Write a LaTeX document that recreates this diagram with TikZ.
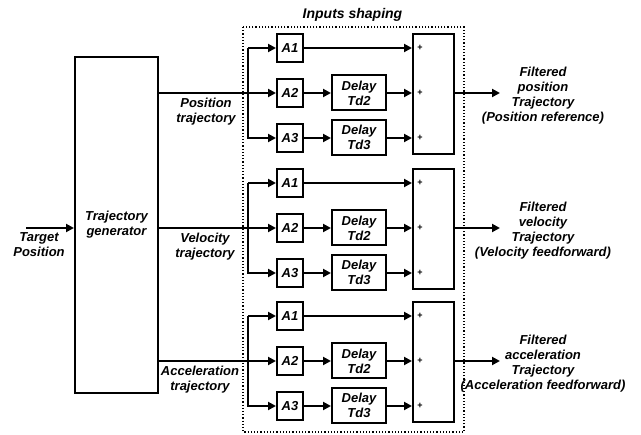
\documentclass[tikz,border=0pt]{standalone}
\usepackage{fontspec}
\setmainfont{Liberation Sans}
\usepackage{tikz}
\usetikzlibrary{arrows.meta,calc,positioning}
\tikzset{
    myblock/.style={draw=black,line width=2pt,inner sep=0pt,align=center},
    gainbox/.style={myblock,minimum width=26pt,minimum height=28pt},
    delaybox/.style={myblock,minimum width=54pt,minimum height=35pt},
    sumbox/.style={myblock,minimum width=41pt,minimum height=120pt},
    myedge/.style={line width=2pt,draw=black},
    myarrow/.style={myedge,-{Triangle[length=8pt,width=8pt]}},
    mylabel/.style={align=center,inner sep=0pt},
    plussign/.style={font=\fontsize{9}{9}\selectfont\bfseries,inner sep=0pt},
    every node/.style={font=\fontsize{13}{15}\selectfont\bfseries\itshape}
}

\begin{document}
\begin{tikzpicture}[x=1pt,y=-1pt]
  \useasboundingbox (0,0) rectangle (641,435);

  % zone de mise en forme (input shaping)
  \draw[line width=1.2pt,dotted] (243,27) rectangle (464,432);
  \node[mylabel,font=\fontsize{14}{15}\selectfont\bfseries\itshape]
    (title) at (352.5,15) {Inputs shaping};

  % generateur de trajectoire
  \node[myblock,minimum width=83pt,minimum height=336pt]
    (gen) at (116.5,225) {Trajectory\\generator};
  \coordinate (tin) at (26,228);
  \draw[myarrow] (tin) -- (tin -| gen.west);
  \node[mylabel] (tlab) at (39,245) {Target\\Position};

  % point de branchement
  \coordinate (br) at (248,0);

  % trois voies : position, vitesse, acceleration
  \foreach \i/\y/\lx/\inlab/\outlab in {%
      1/93/206/{Position\\trajectory}/{Filtered\\position\\Trajectory\\(Position reference)},%
      2/228/205/{Velocity\\trajectory}/{Filtered\\velocity\\Trajectory\\(Velocity feedforward)},%
      3/361/200/{Acceleration\\trajectory}/{Filtered\\acceleration\\Trajectory\\(Acceleration feedforward)}}{
    % gains
    \node[gainbox] (A1-\i) at (290,\y-45) {A1};
    \node[gainbox] (A2-\i) at (290,\y) {A2};
    \node[gainbox] (A3-\i) at (290,\y+45) {A3};
    % retards
    \node[delaybox] (D2-\i) at (359,\y) {Delay\\Td2};
    \node[delaybox] (D3-\i) at (359,\y+44.5) {Delay\\Td3};
    % sommateur
    \node[sumbox] (S-\i) at (433.5,\y+1) {};
    \node[plussign] (p1-\i) at ($(S-\i.west |- A1-\i)+(8,0)$) {+};
    \node[plussign] (p2-\i) at ($(S-\i.west |- A2-\i)+(8,0)$) {+};
    \node[plussign] (p3-\i) at ($(S-\i.west |- A3-\i)+(8,0)$) {+};

    % liaisons
    \draw[myarrow] (gen.east |- A2-\i) -- (A2-\i);
    \draw[myarrow] (A1-\i -| br) -- (A1-\i);
    \draw[myarrow] (A1-\i -| br) -- (A3-\i -| br) -- (A3-\i);
    \draw[myarrow] (A1-\i) -- (A1-\i -| S-\i.west);
    \draw[myarrow] (A2-\i) -- (D2-\i);
    \draw[myarrow] (D2-\i) -- (D2-\i -| S-\i.west);
    \draw[myarrow] (A3-\i) -- (A3-\i -| D3-\i.west);
    \draw[myarrow] (D3-\i.east |- A3-\i) -- (A3-\i -| S-\i.west);

    % sortie
    \coordinate (o-\i) at (500,\y);
    \draw[myarrow] (S-\i.east |- o-\i) -- (o-\i);

    % libelles
    \node[mylabel] (in-\i) at (\lx,\y+18.5) {\inlab};
    \node[mylabel] (out-\i) at (543,\y+3) {\outlab};
  }

\end{tikzpicture}
\end{document}
